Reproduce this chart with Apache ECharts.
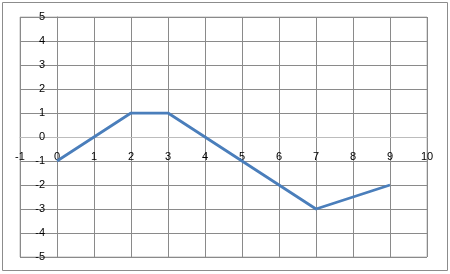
<!DOCTYPE html>
<html><head><meta charset="utf-8">
<script src="https://cdn.jsdelivr.net/npm/echarts@6/dist/echarts.min.js"></script>
<style>html,body{margin:0;padding:0;background:#fff}#c{width:450px;height:274px}</style>
</head><body><div id="c"></div>
<script>
const xValues = [0, 2, 3, 5, 7, 9];
const yValues = [-1, 1, 1, -1, -3, -2];
const xRange = [-1, 10];
const yRange = [-5, 5];

const chart = echarts.init(document.getElementById('c'), null, {renderer: 'canvas'});
const font = {fontFamily: 'Liberation Sans', fontSize: 11, color: '#000'};
const gridLeft = 20, gridRight = 23, gridTop = 17, gridBottom = 17;
const unitW = (450 - gridLeft - gridRight) / (xRange[1] - xRange[0]);
const unitH = (274 - gridTop - gridBottom) / (yRange[1] - yRange[0]);
chart.setOption({
  animation: false,
  backgroundColor: '#fff',
  graphic: [{
    type: 'rect', shape: {x: 2.5, y: 2.5, width: 445, height: 268},
    style: {fill: 'none', stroke: '#8c8c8c', lineWidth: 1}, z: -1
  }],
  grid: {left: gridLeft, right: gridRight, top: gridTop, bottom: gridBottom, show: true,
         borderColor: '#bcbcbc', borderWidth: 1, outerBoundsMode: 'none', containLabel: false},
  xAxis: {
    type: 'value', min: xRange[0], max: xRange[1], interval: 1,
    position: 'bottom',
    offset: -(0 - yRange[0]) * unitH,
    axisLine: {show: true, onZero: false, lineStyle: {color: '#bcbcbc'}},
    axisTick: {show: false},
    axisLabel: Object.assign({margin: 14}, font),
    splitLine: {show: true, lineStyle: {color: '#8a8a8a'}}
  },
  yAxis: {
    type: 'value', min: yRange[0], max: yRange[1], interval: 1,
    position: 'left',
    offset: -(0 - xRange[0]) * unitW,
    axisLine: {show: true, onZero: false, lineStyle: {color: '#8a8a8a'}},
    axisTick: {show: false},
    axisLabel: Object.assign({margin: 12}, font),
    splitLine: {show: true, lineStyle: {color: '#8a8a8a'}}
  },
  series: [{
    type: 'line',
    data: xValues.map((x, i) => [x, yValues[i]]),
    symbol: 'none',
    lineStyle: {color: '#4a7ebb', width: 2.75},
    z: 5
  }]
});
</script></body></html>
